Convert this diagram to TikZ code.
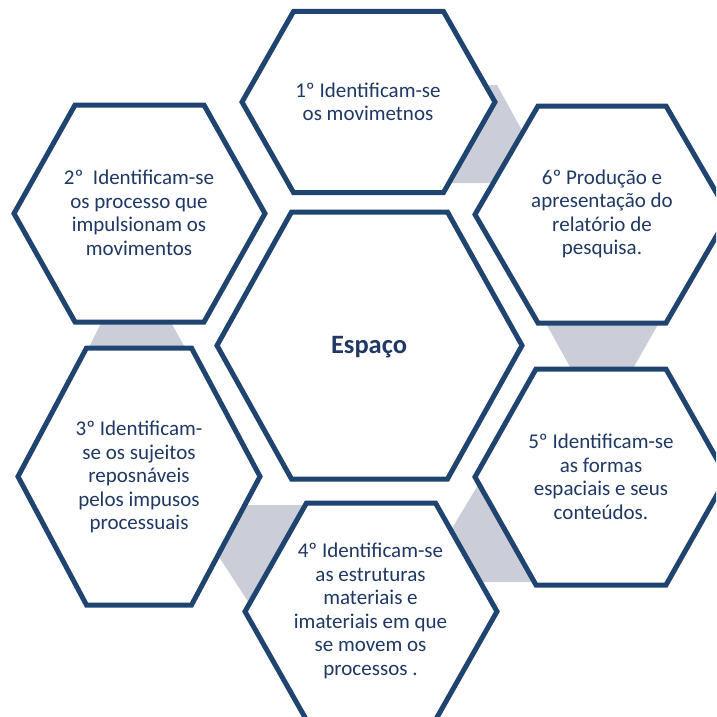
\documentclass[tikz,border=0pt]{standalone}
\usepackage{fontspec}
\setmainfont{Carlito}
\definecolor{hexline}{HTML}{1F4470}
\definecolor{hextext}{HTML}{1F3864}
\definecolor{linkgray}{HTML}{CBCED8}
\tikzset{
  hexcell/.style={draw=hexline, line width=5pt, fill=white, line join=miter},
  link/.style={fill=linkgray},
  celltext/.style={text=hextext, align=center, inner sep=0pt,
    font=\fontsize{21}{23.5}\selectfont},
  hubtext/.style={text=hextext, inner sep=0pt,
    font=\fontsize{26.5}{30}\selectfont\bfseries}
}
% #1 centre x, #2 centre y, #3 half width (side vertex), #4 half top edge, #5 half height
\newcommand\hexcellpath[5]{%
  \draw[hexcell] (#1-#3,#2) -- (#1-#4,#2-#5) -- (#1+#4,#2-#5) -- (#1+#3,#2)
    -- (#1+#4,#2+#5) -- (#1-#4,#2+#5) -- cycle;}
\begin{document}
\begin{tikzpicture}[x=1pt,y=-1pt]
\useasboundingbox (0,0) rectangle (716,717);
\clip (0,0) rectangle (716,717);
% grey links between neighbouring cells
\fill[link] (470,85) -- (497,85) -- (545,172) -- (545,183) -- (440,183) -- cycle;
\fill[link] (533,300) -- (672,300) -- (623.5,385) -- (580,385) -- cycle;
\fill[link] (493,460) -- (445,540) -- (470,582) -- (560,582) -- (560,460) -- cycle;
\fill[link] (235,505) -- (320,505) -- (300,620) -- (260,620) -- (208,540) -- cycle;
\fill[link] (105,315) -- (167,315) -- (189,355) -- (85,355) -- cycle;
% cells
\hexcellpath{368.5}{102}{126.5}{75}{90.5}
\hexcellpath{139.5}{213.5}{125.5}{64.5}{108.5}
\hexcellpath{602}{214.5}{127}{64}{108.5}
\hexcellpath{369.5}{345.5}{152.5}{78}{133.5}
\hexcellpath{139}{476.5}{121}{52.5}{128.5}
\hexcellpath{601}{477}{126}{65}{108}
\hexcellpath{371}{611.5}{126}{64.5}{108.5}
% texts
\node[hubtext] (hub) at (369,347) {Espaço};
\node[celltext] (s1) at (368,102) {1º Identificam-se\\os movimetnos};
\node[celltext] (s2) at (139,213) {2º\ \ Identificam-se\\os processo que\\impulsionam os\\movimentos};
\node[celltext] (s3) at (139,477) {3º Identificam-\\se os sujeitos\\reposnáveis\\pelos impusos\\processuais};
\node[celltext] (s4) at (370.5,611) {4º Identificam-se\\as estruturas\\materiais e\\imateriais em que\\se movem os\\processos .};
\node[celltext] (s5) at (601,477) {5º Identificam-se\\as formas\\espaciais e seus\\conteúdos.};
\node[celltext] (s6) at (602,214) {6º Produção e\\apresentação do\\relatório de\\pesquisa.};
\end{tikzpicture}
\end{document}
